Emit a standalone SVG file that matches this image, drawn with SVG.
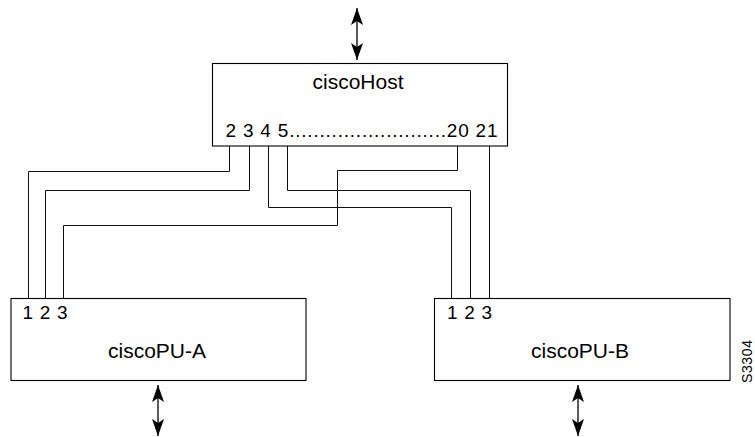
<svg xmlns="http://www.w3.org/2000/svg" width="755" height="437" viewBox="0 0 755 437">
  <defs>
    <style>
      .box { fill: #ffffff; stroke: #000000; stroke-width: 1.1; }
      .wire { fill: none; stroke: #111111; stroke-width: 1; }
      .io { fill: none; stroke: #000000; stroke-width: 1.3; marker-start: url(#ah); marker-end: url(#ah); }
      .lbl { font-family: "Liberation Sans", Arial, sans-serif; fill: #000000; }
      .name { font-size: 21px; text-anchor: middle; }
      .port { font-size: 19px; }
    </style>
    <marker id="ah" markerUnits="userSpaceOnUse" viewBox="0 0 17 12" markerWidth="17" markerHeight="12" refX="17" refY="6" orient="auto-start-reverse">
      <path d="M0,0 L17,6 L0,12 L4,6 z" fill="#000000"/>
    </marker>
  </defs>
  <rect width="755" height="437" fill="#ffffff"/>

  <g id="connectors">
    <polyline class="wire" points="229.5,146 229.5,171.5 28.5,171.5 28.5,298"/>
    <polyline class="wire" points="249.5,146 249.5,190.5 45.5,190.5 45.5,298"/>
    <polyline class="wire" points="268.5,146 268.5,207.5 451.5,207.5 451.5,298"/>
    <polyline class="wire" points="287.5,146 287.5,190.5 470.5,190.5 470.5,298"/>
    <polyline class="wire" points="457.5,146 457.5,170.5 337.5,170.5 337.5,225.5 63.5,225.5 63.5,298"/>
    <polyline class="wire" points="489.5,146 489.5,298"/>
    <line class="io" x1="357" y1="8" x2="357" y2="60"/>
    <line class="io" x1="158" y1="385" x2="158" y2="436"/>
    <line class="io" x1="578" y1="385" x2="578" y2="436"/>
  </g>

  <g id="ciscoHost">
    <rect class="box" x="212.5" y="63.5" width="295" height="82.5"/>
    <text class="lbl name" x="358" y="89">ciscoHost</text>
    <text class="lbl port" x="225.5" y="136.5" textLength="272">2 3 4 5..........................20 21</text>
  </g>

  <g id="ciscoPU-A">
    <rect class="box" x="11" y="298.5" width="295" height="82"/>
    <text class="lbl port" x="22.5" y="318.5" textLength="45">1 2 3</text>
    <text class="lbl name" x="157" y="358">ciscoPU-A</text>
  </g>

  <g id="ciscoPU-B">
    <rect class="box" x="434.5" y="298.5" width="295.5" height="82"/>
    <text class="lbl port" x="447" y="318.5" textLength="45">1 2 3</text>
    <text class="lbl name" x="580" y="358">ciscoPU-B</text>
  </g>

  <text class="lbl" font-size="14" transform="translate(752,383) rotate(-90)" textLength="43">S3304</text>
</svg>
